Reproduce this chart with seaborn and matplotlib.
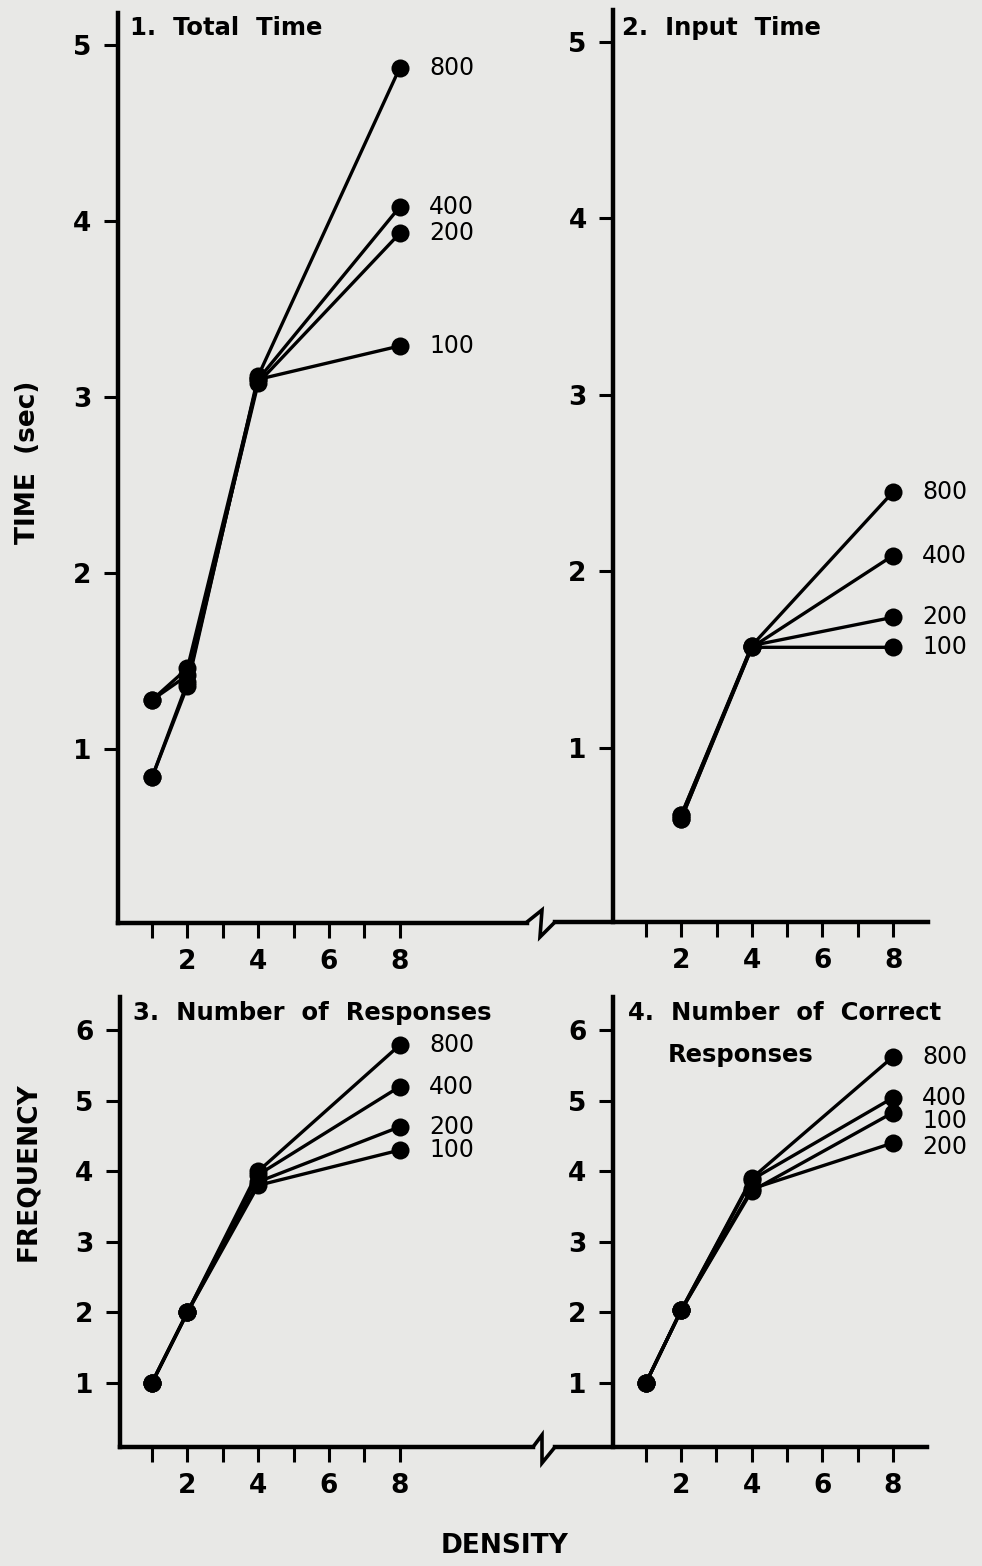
import numpy as np
import pandas as pd
import matplotlib
matplotlib.use('Agg')
import matplotlib.pyplot as plt
from matplotlib.lines import Line2D
import seaborn as sns

# data
rates = ['100', '200', '400', '800']
density = [1, 2, 4, 8]
density_input = [2, 4, 8]

total_time = {
    '100': [1.28, 1.46, 3.10, 3.29],
    '200': [1.28, 1.42, 3.08, 3.93],
    '400': [0.84, 1.38, 3.10, 4.08],
    '800': [0.84, 1.36, 3.12, 4.87],
}
input_time = {
    '100': [0.62, 1.57, 1.57],
    '200': [0.60, 1.58, 1.74],
    '400': [0.60, 1.57, 2.09],
    '800': [0.62, 1.58, 2.45],
}
n_responses = {
    '100': [1.0, 2.0, 3.80, 4.30],
    '200': [1.0, 2.0, 3.85, 4.63],
    '400': [1.0, 2.0, 3.95, 5.20],
    '800': [1.0, 2.0, 4.00, 5.79],
}
n_correct = {
    '100': [1.0, 2.03, 3.72, 4.83],
    '200': [1.0, 2.03, 3.75, 4.40],
    '400': [1.0, 2.03, 3.88, 5.04],
    '800': [1.0, 2.03, 3.90, 5.62],
}

sns.set_style('ticks')
plt.rcParams['font.family'] = ['DejaVu Sans']
plt.rcParams['text.color'] = 'black'
plt.rcParams['xtick.color'] = 'black'
plt.rcParams['ytick.color'] = 'black'
plt.rcParams['axes.labelcolor'] = 'black'
BG = '#e8e8e6'
W, H = 982, 1566

fig = plt.figure(figsize=(W / 100, H / 100), dpi=100, facecolor=BG)


def px_axes(l, t, r, b):
    ax = fig.add_axes([l / W, 1 - b / H, (r - l) / W, (b - t) / H])
    ax.set_facecolor('none')
    return ax


def to_long(xs, d):
    rows = []
    for r in rates:
        for x, v in zip(xs, d[r]):
            rows.append({'density': x, 'value': v, 'rate': r})
    return pd.DataFrame(rows)


def style_axes(ax, xlim, ylim, yticks, spine_x=None):
    ax.set_xlim(*xlim)
    ax.set_ylim(*ylim)
    for s in ['top', 'right']:
        ax.spines[s].set_visible(False)
    for s in ['left', 'bottom']:
        ax.spines[s].set_linewidth(3.2)
        ax.spines[s].set_color('black')
    if spine_x is not None:
        ax.spines['left'].set_position(('data', spine_x))
    ax.set_xticks(range(1, 9))
    ax.set_xticklabels(['' if i % 2 else str(i) for i in range(1, 9)])
    ax.set_yticks(yticks)
    ax.set_yticklabels([str(v) for v in yticks])
    ax.tick_params(axis='x', direction='out', length=11, width=2.2, pad=8,
                   labelsize=19, colors='black')
    ax.tick_params(axis='y', direction='out', length=10, width=2.2, pad=9,
                   labelsize=19, colors='black')
    for lab in ax.get_xticklabels() + ax.get_yticklabels():
        lab.set_fontweight('bold')
    ax.set_xlabel('')
    ax.set_ylabel('')


def draw(ax, xs, d, nudges=None):
    df = to_long(xs, d)
    sns.lineplot(data=df, x='density', y='value', hue='rate',
                 palette=['black'] * len(rates), marker='o', markersize=13,
                 markeredgewidth=0, linewidth=2.4, estimator=None,
                 legend=False, ax=ax)
    nudges = nudges or {}
    for r in rates:
        ax.annotate(r, (xs[-1], d[r][-1]), xytext=(21, nudges.get(r, 0)),
                    textcoords='offset points', ha='left', va='center',
                    fontsize=17, color='black')


# top row
ax1 = px_axes(118, 13, 527, 923)
draw(ax1, density, total_time)
style_axes(ax1, (0.04, 11.59), (0.014, 5.18), [1, 2, 3, 4, 5])

ax2 = px_axes(555, 10, 928, 922)
draw(ax2, density_input, input_time)
style_axes(ax2, (-1.58, 8.99), (0.014, 5.18), [1, 2, 3, 4, 5], spine_x=0.065)

# bottom row
ax3 = px_axes(120, 997, 533, 1447)
draw(ax3, density, n_responses)
style_axes(ax3, (0.096, 11.76), (0.09, 6.47), [1, 2, 3, 4, 5, 6])

ax4 = px_axes(555, 997, 927, 1447)
draw(ax4, density, n_correct, nudges={'100': -6, '200': -3})
style_axes(ax4, (-1.58, 8.97), (0.09, 6.47), [1, 2, 3, 4, 5, 6], spine_x=0.065)


def ftext(x, y, s, **kw):
    fig.text(x / W, 1 - y / H, s, color='black', **kw)


# panel titles
title_kw = dict(fontsize=17.5, fontweight='bold', va='center', ha='left')
ftext(130, 28, '1.  Total  Time', **title_kw)
ftext(622, 28, '2.  Input  Time', **title_kw)
ftext(133, 1013, '3.  Number  of  Responses', **title_kw)
ftext(628, 1013, '4.  Number  of  Correct', **title_kw)
ftext(668, 1055, 'Responses', **title_kw)

# axis labels
ftext(28, 462, 'TIME  (sec)', fontsize=19, fontweight='bold', rotation=90,
      ha='center', va='center')
ftext(28, 1172, 'FREQUENCY', fontsize=19, fontweight='bold', rotation=90,
      ha='center', va='center')
ftext(505, 1546, 'DENSITY', fontsize=19, fontweight='bold',
      ha='center', va='center')

# axis break marks
for pts in ([(527, 922), (542, 910), (540, 937), (555, 922)],
            [(533, 1447), (542, 1435), (542, 1463), (555, 1447)]):
    xs = [p[0] / W for p in pts]
    ys = [1 - p[1] / H for p in pts]
    fig.add_artist(Line2D(xs, ys, transform=fig.transFigure, color='black',
                          linewidth=2.6, solid_joinstyle='miter'))

fig.savefig('out.png', dpi=100, facecolor=BG)
